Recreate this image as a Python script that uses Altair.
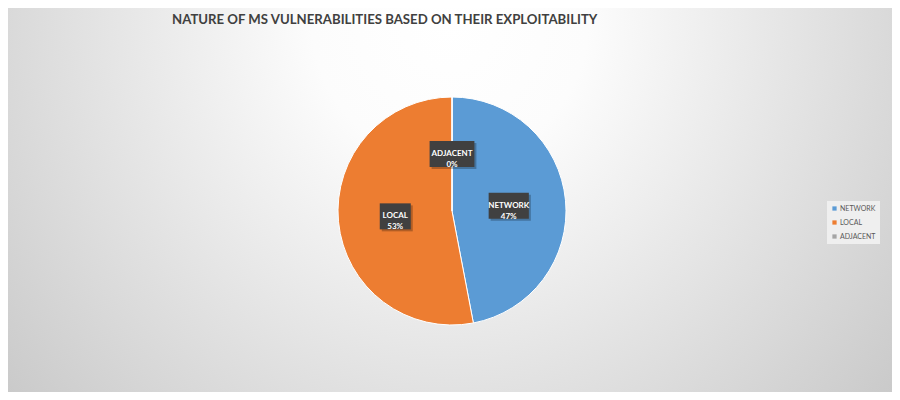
import altair as alt
import pandas as pd

categories = ["NETWORK", "LOCAL", "ADJACENT"]
values = [47, 53, 0]
order_idx = [0, 1, 2]
colors = ["#5B9BD5", "#ED7D31", "#A5A5A5"]
title_text = "NATURE OF MS VULNERABILITIES BASED ON THEIR EXPLOITABILITY"

W, H = 884, 384
CX, CY, R = 444, 203, 114
LR = 57

df = pd.DataFrame({"cat": categories, "value": values, "idx": order_idx})

bg = alt.Chart(pd.DataFrame({"a": [0]})).mark_rect(
    color={
        "gradient": "radial",
        "x1": 0.5, "y1": 0.3, "r1": 0.0,
        "x2": 0.5, "y2": 0.3, "r2": 0.78,
        "stops": [
            {"offset": 0.0, "color": "#ffffff"},
            {"offset": 0.2, "color": "#fcfcfc"},
            {"offset": 1.0, "color": "#bdbdbd"},
        ],
    }
).encode(x=alt.value(0), x2=alt.value(W), y=alt.value(0), y2=alt.value(H))

color_scale = alt.Scale(domain=categories, range=colors)

pie = alt.Chart(df).mark_arc(outerRadius=R, stroke="white", strokeWidth=1).encode(
    theta=alt.Theta("value:Q", stack=True),
    order=alt.Order("idx:Q"),
    color=alt.Color("cat:N", scale=color_scale, sort=categories,
                    legend=alt.Legend(title=None, orient="none", legendX=819, legendY=193,
                                      symbolType="square", symbolSize=18,
                                      labelFontSize=7, labelColor="#595959",
                                      labelFont="Lato", fillColor="#efefef",
                                      labelOffset=2, padding=4, rowPadding=6,
                                      symbolStrokeWidth=0)),
    x=alt.value(CX), y=alt.value(CY),
)

lab_base = alt.Chart(df).transform_joinaggregate(
    total="sum(value)"
).transform_window(
    cum="sum(value)", sort=[alt.SortField("idx")], frame=[None, 0]
).transform_calculate(
    mid="(datum.cum - datum.value/2)/datum.total*2*PI",
    pct="round(datum.value/datum.total*100) + '%'",
    label="datum.cat + '\\n' + datum.pct",
    bw="length(datum.cat)*4.6 + 8",
).transform_calculate(
    px=f"{CX} + {LR}*sin(datum.mid)",
    py=f"{CY} - {LR}*cos(datum.mid)",
).transform_calculate(
    x1="datum.px - datum.bw/2", x2="datum.px + datum.bw/2",
    y1="datum.py - 13", y2="datum.py + 13",
    sx1="datum.px - datum.bw/2 + 2", sx2="datum.px + datum.bw/2 + 2",
    sy1="datum.py - 11", sy2="datum.py + 15",
)

shadow = lab_base.mark_rect(color="#000000", opacity=0.25).encode(
    x=alt.X("sx1:Q", scale=None), x2="sx2:Q",
    y=alt.Y("sy1:Q", scale=None), y2="sy2:Q",
)
boxes = lab_base.mark_rect(color="#404040").encode(
    x=alt.X("x1:Q", scale=None), x2="x2:Q",
    y=alt.Y("y1:Q", scale=None), y2="y2:Q",
)
texts = lab_base.mark_text(color="white", fontSize=8, fontWeight="bold", font="Lato",
                           lineBreak="\n", lineHeight=11, baseline="middle").encode(
    x=alt.X("px:Q", scale=None), y=alt.Y("py:Q", scale=None), text="label:N"
)

title = alt.Chart(pd.DataFrame({"t": [title_text]})).mark_text(
    font="Lato", fontSize=13.2, fontWeight="bold", color="#404040", align="left", baseline="middle"
).encode(x=alt.value(164), y=alt.value(12), text="t:N")

chart = alt.layer(bg, pie, shadow, boxes, texts, title).properties(
    width=W, height=H, padding=0
).configure_view(stroke=None)

chart.save("out.html", embed_options={"renderer": "svg", "actions": False})
